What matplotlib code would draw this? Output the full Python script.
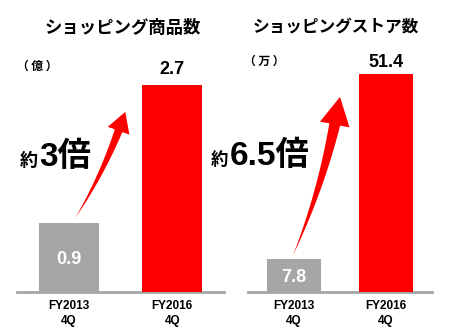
import numpy as np
import matplotlib
matplotlib.use("Agg")
import matplotlib.pyplot as plt
from matplotlib.patches import Polygon
from matplotlib.transforms import IdentityTransform

# Daten
categories = ["FY2013\n4Q", "FY2016\n4Q"]
items_values = [0.9, 2.7]        # Shopping-Artikel (億)
stores_values = [7.8, 51.4]      # Shopping-Stores (万)
titles = ["ショッピング商品数", "ショッピングストア数"]
units = ["（億）", "（万）"]
ratios = ["3倍", "6.5倍"]

W, H = 452, 327
GRAY = "#a6a6a6"
RED = "#ff0000"
FONTS = ["Liberation Sans", "Noto Sans CJK JP", "DejaVu Sans"]
CJK = ["Noto Sans CJK JP", "DejaVu Sans"]
plt.rcParams["font.family"] = FONTS

fig = plt.figure(figsize=(W / 100, H / 100), dpi=100)


def px(x, y):
    # Pixel (von oben links) -> Figur-Koordinaten
    return x / W, 1 - y / H


def curved_arrow(ax, tail, tip, bend, shaft_w, head_w, head_len, color=RED):
    # gebogener, sich verjüngender Pfeil in Pixelkoordinaten
    p0 = ax.transData.transform(tail)
    p2 = ax.transData.transform(tip)
    chord = p2 - p0
    L = np.hypot(*chord)
    d = chord / L
    n = np.array([d[1], -d[0]])
    ctrl = (p0 + p2) / 2 + n * bend * L
    t = np.linspace(0, 1, 60)[:, None]
    curve = (1 - t) ** 2 * p0 + 2 * (1 - t) * t * ctrl + t ** 2 * p2
    seg = np.hypot(*np.diff(curve, axis=0).T)
    s = np.concatenate([[0], np.cumsum(seg)])
    keep = s <= s[-1] - head_len
    shaft = curve[keep]
    base = shaft[-1]
    hd = (p2 - base) / np.hypot(*(p2 - base))
    tang = np.gradient(shaft, axis=0)
    tang /= np.hypot(tang[:, 0], tang[:, 1])[:, None]
    nrm = np.stack([-tang[:, 1], tang[:, 0]], axis=1)
    w = np.linspace(0, shaft_w / 2, len(shaft))[:, None]
    left = shaft + nrm * w
    right = shaft - nrm * w
    hn = np.array([-hd[1], hd[0]])
    pts = np.vstack([left, base + hn * head_w / 2, p2, base - hn * head_w / 2, right[::-1]])
    ax.add_patch(Polygon(pts, closed=True, facecolor=color, edgecolor="none",
                         transform=IdentityTransform(), clip_on=False, zorder=5))


def panel(rect, values, ymax):
    ax = fig.add_axes(rect)
    x = np.arange(len(values))
    ax.bar(x, values, width=0.58, color=[GRAY, RED], zorder=3)
    ax.set_xlim(-0.5, 1.5)
    ax.set_ylim(0, ymax)
    for sp in ["top", "right", "left"]:
        ax.spines[sp].set_visible(False)
    ax.spines["bottom"].set_color(GRAY)
    ax.spines["bottom"].set_linewidth(2)
    ax.set_yticks([])
    ax.set_xticks(x)
    ax.set_xticklabels(categories, fontsize=8.5, fontweight="bold", linespacing=1.3)
    ax.tick_params(axis="x", length=0, pad=6)
    return ax


ax1 = panel([17 / W, 35 / H, 207 / W, 292 / H], items_values, 3.81)
ax2 = panel([248 / W, 35 / H, 184 / W, 292 / H], stores_values, 68.85)

# Werte
ax1.text(0, items_values[0] * 0.5, f"{items_values[0]}", color="white", fontsize=13,
         fontweight="bold", ha="center", va="center_baseline", zorder=4)
ax2.text(0, stores_values[0] * 0.5, f"{stores_values[0]}", color="white", fontsize=13,
         fontweight="bold", ha="center", va="center_baseline", zorder=4)
ax1.annotate(f"{items_values[1]}", (1, items_values[1]), xytext=(0, 5), textcoords="offset points",
             fontsize=13, fontweight="bold", ha="center", va="bottom")
ax2.annotate(f"{stores_values[1]}", (1, stores_values[1]), xytext=(0, 2), textcoords="offset points",
             fontsize=13, fontweight="bold", ha="center", va="bottom")

# Titel und Einheiten
fig.text(*px(123, 28), titles[0], fontsize=12.5, fontweight="bold", ha="center", va="center",
         family=CJK)
fig.text(*px(336, 27), titles[1], fontsize=12, fontweight="bold", ha="center", va="center",
         family=CJK)
fig.text(*px(37, 66), " ".join(units[0]), fontsize=8.5, fontweight="bold", ha="center",
         va="center", family=CJK)
fig.text(*px(264, 61), " ".join(units[1]), fontsize=8.5, fontweight="bold", ha="center",
         va="center", family=CJK)

# Faktoren
fig.text(*px(20, 166), "約", fontsize=13, fontweight="bold", ha="left", va="baseline", family=CJK)
fig.text(*px(39, 166), ratios[0], fontsize=24, fontweight="bold", ha="left", va="baseline")
fig.text(*px(211, 165), "約", fontsize=12.5, fontweight="bold", ha="left", va="baseline", family=CJK)
fig.text(*px(230, 165), ratios[1], fontsize=24, fontweight="bold", ha="left", va="baseline")

# Pfeile
fig.canvas.draw()
curved_arrow(ax1, (0.063, items_values[0] + 0.065), (0.546, 2.35), 0.06, 8, 23, 19)
curved_arrow(ax2, (-0.01, stores_values[0] + 0.9), (0.5, 46.0), 0.06, 11, 30, 27)

fig.savefig("out.png", dpi=100)
